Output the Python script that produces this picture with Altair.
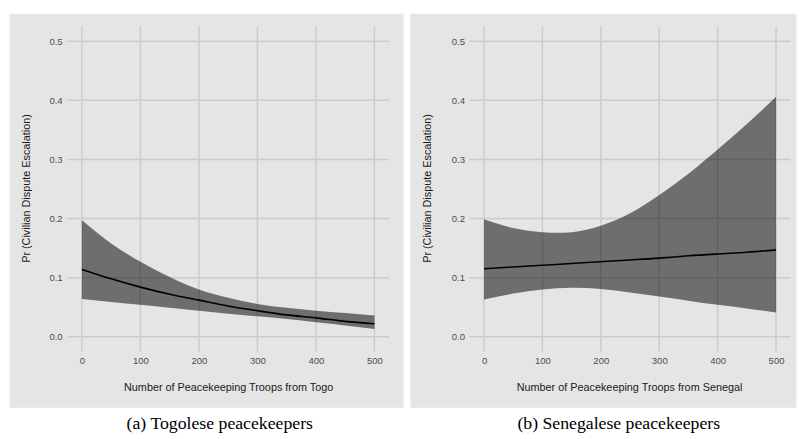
import altair as alt
import pandas as pd

# ---------------- data ----------------
troops = [0, 50, 100, 150, 200, 250, 300, 350, 400, 450, 500]

togo_est = [0.114, 0.098, 0.084, 0.072, 0.062, 0.052, 0.044, 0.037, 0.032, 0.026, 0.022]
togo_hi = [0.197, 0.158, 0.127, 0.101, 0.080, 0.066, 0.0555, 0.049, 0.044, 0.040, 0.036]
togo_lo = [0.064, 0.059, 0.054, 0.049, 0.044, 0.039, 0.0345, 0.030, 0.0244, 0.019, 0.0133]

sen_est = [0.115, 0.118, 0.121, 0.124, 0.127, 0.130, 0.133, 0.137, 0.140, 0.143, 0.147]
sen_hi = [0.199, 0.184, 0.177, 0.177, 0.188, 0.209, 0.240, 0.276, 0.317, 0.360, 0.406]
sen_lo = [0.063, 0.073, 0.080, 0.083, 0.081, 0.075, 0.068, 0.061, 0.054, 0.048, 0.041]

x_ticks = [0, 100, 200, 300, 400, 500]
y_ticks = [0.0, 0.1, 0.2, 0.3, 0.4, 0.5]

y_title = "Pr (Civilian Dispute Escalation)"
x_title_a = "Number of Peacekeeping Troops from Togo"
x_title_b = "Number of Peacekeeping Troops from Senegal"
caption_a = "(a) Togolese peacekeepers"
caption_b = "(b) Senegalese peacekeepers"

# ---------------- style ----------------
PANEL = "#e5e5e5"
GRID = "#cbcbcb"
X_EXT = (-25, 525)      # grid extent (data units)
Y_EXT = (-0.025, 0.525)
Y_DOMAIN = [-0.11917, 0.5475]
PANEL_H = 400


def panel(est, lo, hi, x_title, caption, width, x_domain, y_axis_offset, cap_dx):
    df = pd.DataFrame({"x": troops, "est": est, "lo": lo, "hi": hi})
    xs = alt.Scale(domain=x_domain, nice=False, zero=False)
    ys = alt.Scale(domain=Y_DOMAIN, nice=False, zero=False)

    xaxis = alt.Axis(
        values=x_ticks, format="d", title=x_title,
        offset=-(PANEL_H - 343.5), labelPadding=4,
        ticks=False, domain=False, grid=False,
        titleX=222.5, titleAlign="center",
        titleY=36.5, titleBaseline="middle",
    )
    yaxis = alt.Axis(
        values=y_ticks, format=".1f", title=y_title,
        offset=y_axis_offset, labelPadding=5,
        ticks=False, domain=False, grid=False,
        titleX=17.5 + y_axis_offset, titleY=177.5, titleAngle=270,
        titleBaseline="middle", titleAlign="center",
    )

    vg = pd.DataFrame({"t": x_ticks, "a": [Y_EXT[0]] * len(x_ticks), "b": [Y_EXT[1]] * len(x_ticks)})
    hg = pd.DataFrame({"t": y_ticks, "a": [X_EXT[0]] * len(y_ticks), "b": [X_EXT[1]] * len(y_ticks)})

    vgrid = alt.Chart(vg).mark_rule(color=GRID, strokeWidth=1.5).encode(
        x=alt.X("t:Q", scale=xs, axis=xaxis),
        y=alt.Y("a:Q", scale=ys, axis=yaxis),
        y2="b:Q",
    )
    hgrid = alt.Chart(hg).mark_rule(color=GRID, strokeWidth=1.5).encode(
        y=alt.Y("t:Q", scale=ys, axis=yaxis),
        x=alt.X("a:Q", scale=xs, axis=xaxis),
        x2="b:Q",
    )
    band = alt.Chart(df).mark_area(color="black", opacity=0.52, interpolate="natural").encode(
        x=alt.X("x:Q", scale=xs, axis=xaxis),
        y=alt.Y("lo:Q", scale=ys, axis=yaxis),
        y2="hi:Q",
    )
    line = alt.Chart(df).mark_line(color="black", strokeWidth=1.6, interpolate="natural").encode(
        x=alt.X("x:Q", scale=xs, axis=xaxis),
        y=alt.Y("est:Q", scale=ys, axis=yaxis),
    )
    return alt.layer(vgrid, hgrid, band, line).properties(
        width=width, height=PANEL_H,
        title=alt.TitleParams(
            caption, orient="bottom", anchor="middle", dx=cap_dx, offset=8,
            font="Liberation Serif", fontSize=18, fontWeight="normal", color="black",
        ),
    )


left = panel(togo_est, togo_lo, togo_hi, x_title_a, caption_a, 400,
             [-124.58, 548.82], -59, 14)
right = panel(sen_est, sen_lo, sen_hi, x_title_b, caption_b, 392,
              [-127.0, 534.2], -60.5, 16)

chart = alt.hconcat(left, right, spacing=5).properties(
    padding={"left": 0, "top": 1, "right": 0, "bottom": 0}
).configure(background="white").configure_view(
    fill=PANEL, stroke="transparent"
).configure_axis(
    labelFont="Liberation Sans", labelFontSize=9.7, labelColor="#4d4d4d",
    titleFont="Liberation Sans", titleFontSize=11, titleFontWeight="normal", titleColor="#1a1a1a",
)

chart.save("out.html", embed_options={"renderer": "svg", "actions": False})
